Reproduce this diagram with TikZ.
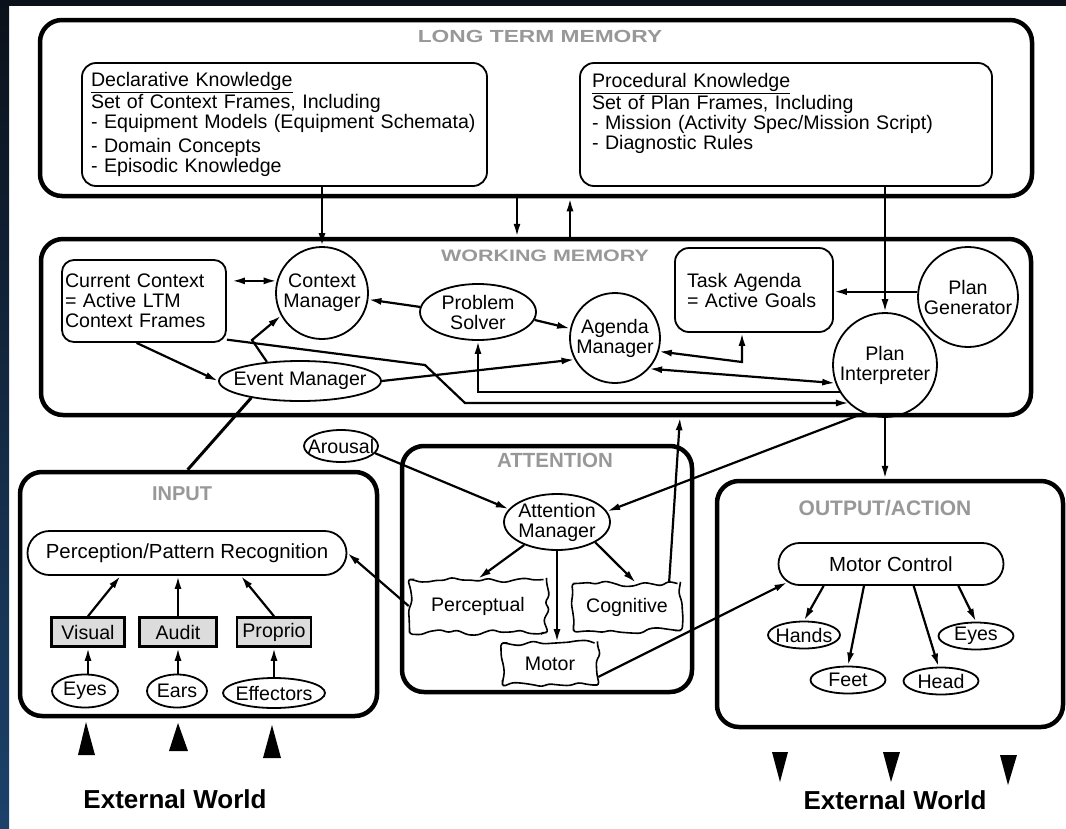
\documentclass[tikz,border=0pt]{standalone}
\usepackage{fontspec}
\setmainfont{Liberation Sans}
\newfontfamily\widesans{Liberation Sans}[FakeStretch=1.3]
\usetikzlibrary{arrows.meta, shapes.geometric, shapes.misc, decorations.pathmorphing}

\definecolor{bgtop}{HTML}{0B111A}
\definecolor{bgbot}{HTML}{1C426B}
\definecolor{titlegray}{HTML}{989898}
\definecolor{boxgray}{HTML}{DCDCDC}

\begin{document}
\begin{tikzpicture}[x=1pt, y=-1pt,
	txt/.style={font=\fontsize{19.6}{20}\selectfont},
	bigbox/.style={draw, line width=4.5pt, rounded corners=22pt},
	ttl/.style={text=titlegray, inner sep=0pt},
	frame/.style={txt, draw, line width=1.8pt, rounded corners=14pt, align=left},
	mgr/.style={txt, draw, line width=1.8pt, circle, inner sep=0pt, align=center},
	oval/.style={txt, draw, line width=1.8pt, ellipse, inner xsep=-10pt, inner ysep=-2pt, align=center},
	pill/.style={draw, line width=1.8pt, rounded rectangle, inner sep=0pt, font=\fontsize{20.4}{21}\selectfont},
	sense/.style={txt, draw, line width=2.6pt, fill=boxgray, inner sep=0pt},
	blob/.style={txt, draw, line width=1.6pt, inner sep=0pt, rounded corners=3pt, decorate, decoration={random steps, segment length=9pt, amplitude=3pt}},
	arr/.style={line width=2.2pt, -{Latex[length=13pt, width=7pt]}},
	darr/.style={line width=2.2pt, {Latex[length=13pt, width=7pt]}-{Latex[length=13pt, width=7pt]}},
	world/.style={font=\fontsize{26}{26}\selectfont\bfseries}
]
	\pgfmathsetseed{7}
	\useasboundingbox (0,0) rectangle (1066,828);
	\fill[white] (0,0) rectangle (1066,828);
	\shade[top color=bgtop, bottom color=bgbot] (0,0) rectangle (9,828);
	\fill[bgtop] (0,0) rectangle (1066,6);

	% memory and processing blocks
	\node[bigbox, minimum width=992pt, minimum height=176pt] (ltm)    at (536,108)   {};
	\node[bigbox, minimum width=990pt, minimum height=176pt] (wm)     at (536,327)   {};
	\node[bigbox, minimum width=357pt, minimum height=244pt] (input)  at (198.5,594) {};
	\node[bigbox, minimum width=290pt, minimum height=246pt] (attn)   at (547,569)   {};
	\node[bigbox, minimum width=346pt, minimum height=246pt] (output) at (890,604)   {};

	\node[ttl, font=\widesans\bfseries\fontsize{17.5}{18}\selectfont] (ltm_t)    at (540,36)  {LONG TERM MEMORY};
	\node[ttl, font=\widesans\bfseries\fontsize{16.5}{17}\selectfont] (wm_t)     at (545,256) {WORKING MEMORY};
	\node[ttl, font=\bfseries\fontsize{20}{21}\selectfont]            (input_t)  at (182,494) {INPUT};
	\node[ttl, font=\bfseries\fontsize{20.5}{21}\selectfont]          (attn_t)   at (555,460) {ATTENTION};
	\node[ttl, font=\bfseries\fontsize{21}{22}\selectfont]            (output_t) at (885,508) {OUTPUT/ACTION};

	% long term memory
	\node[frame, minimum width=405pt, minimum height=123pt, text width=387pt, inner xsep=9pt] (decl) at (284.5,124.5)
		{\underline{Declarative Knowledge}\\ Set of Context Frames, Including\\ - Equipment Models (Equipment Schemata)\\[4pt] - Domain Concepts\\ - Episodic Knowledge};
	\node[frame, minimum width=412pt, minimum height=123pt, text width=388pt, inner xsep=12pt] (proc) at (786,124.5)
		{\underline{Procedural Knowledge}\\ Set of Plan Frames, Including\\ - Mission (Activity Spec/Mission Script)\\ - Diagnostic Rules\\ \strut};

	% working memory
	\node[frame, rounded corners=12pt, minimum width=164pt, minimum height=82pt, text width=158pt, inner xsep=3pt] (curctx) at (144,301)
		{Current Context\\= Active LTM\\Context Frames};
	\node[mgr, minimum size=92pt]                    (ctxmgr)   at (322,293) {Context\\Manager};
	\node[oval, minimum width=116pt, minimum height=56pt] (probsolv) at (478,312) {Problem\\Solver};
	\node[mgr, minimum size=90pt]                    (agenda)   at (615,338) {Agenda\\Manager};
	\node[frame, minimum width=158pt, minimum height=84pt, text width=134pt, inner xsep=12pt] (taskag) at (754,290)
		{Task Agenda\\= Active Goals};
	\node[mgr, minimum size=100pt]                   (plangen)  at (968,297) {Plan\\Generator};
	\node[mgr, minimum size=104pt]                   (planint)  at (885,365) {Plan\\Interpreter};
	\node[oval, minimum width=162pt, minimum height=40pt] (evtmgr)   at (300,381) {Event Manager};

	% attention
	\node[oval, minimum width=74pt, minimum height=32pt]  (arousal)  at (341,446) {Arousal};
	\node[oval, minimum width=106pt, minimum height=56pt] (attnmgr)  at (557,522) {Attention\\Manager};
	\node[blob, minimum width=137pt, minimum height=53pt] (percept)  at (478,606) {Perceptual};
	\node[blob, minimum width=107pt, minimum height=47pt] (cogn)     at (627,607) {Cognitive};
	\node[blob, minimum width=95pt, minimum height=42pt]  (motor)    at (550,664) {Motor};

	% input
	\node[pill, minimum width=319pt, minimum height=44pt] (ppr)     at (187,553) {Perception/Pattern Recognition};
	\node[sense, minimum width=73pt, minimum height=29pt] (visual)  at (88,632)  {Visual};
	\node[sense, minimum width=77pt, minimum height=29pt] (audit)   at (178,632) {Audit};
	\node[sense, minimum width=74pt, minimum height=29pt] (proprio) at (274,632) {Proprio};
	\node[oval, minimum width=66pt, minimum height=33pt]  (eyesi)   at (85,691)  {Eyes};
	\node[oval, minimum width=60pt, minimum height=33pt]  (ears)    at (177,691) {Ears};
	\node[oval, minimum width=102pt, minimum height=30pt] (effect)  at (274,693) {Effectors};

	% output
	\node[pill, minimum width=225pt, minimum height=42pt] (mctl)  at (891,564) {Motor Control};
	\node[oval, minimum width=72pt, minimum height=27pt]  (hands) at (804,635) {Hands};
	\node[oval, minimum width=75pt, minimum height=27pt]  (eyeso) at (976,636) {Eyes};
	\node[oval, minimum width=75pt, minimum height=27pt]  (feet)  at (848,680) {Feet};
	\node[oval, minimum width=75pt, minimum height=27pt]  (head)  at (941,681) {Head};

	\node[world] (world_in)  at (175,799) {External World};
	\node[world] (world_out) at (895,800) {External World};

	\coordinate (ltm_dn)  at (517,0);
	\coordinate (ltm_up)  at (570,0);
	\coordinate (ev_kink) at (252,340);
	\coordinate (cc_bend) at (425,365);
	\coordinate (cc_low)  at (465,403);
	\coordinate (ta_bend) at (742,362);
	\coordinate (cog_up)  at (680,0);

	% connectors
	\draw[arr] (decl.south -| ctxmgr.north) -- (ctxmgr.north);
	\draw[arr] (ltm.south -| ltm_dn) -- (wm.north -| ltm_dn);
	\draw[arr] (wm.north -| ltm_up) -- (ltm.south -| ltm_up);
	\draw[arr] (planint.north |- proc.south) -- (planint.north);

	\draw[darr, shorten <=5pt] (curctx.east |- ctxmgr.165) -- (ctxmgr.165);
	\draw[arr] (probsolv.175) -- (ctxmgr.-8);
	\draw[arr] (probsolv.-8) -- (agenda.168);
	\draw[arr] (plangen.174) -- (plangen.174 -| taskag.east);
	\draw[darr] (agenda.-17) -- (ta_bend) -- (ta_bend |- taskag.south);
	\draw[darr] (agenda.-42) -- (planint.200);
	\draw[arr] (evtmgr.east) -- (agenda.208);
	\draw[arr] (evtmgr.150) -- (ev_kink) -- (ctxmgr.209);
	\draw[arr] (curctx.-100) -- (evtmgr.west);
	\draw[arr] (curctx.-25) -- (cc_bend) -- (cc_low) -- (cc_low -| planint.227);
	\draw[arr] (planint.211) -- (planint.211 -| probsolv.south) -- (probsolv.south);

	\draw[line width=3pt] (evtmgr.-161) -- (input.95);
	\draw[arr] (planint.246) -- (attnmgr.12);
	\draw[arr] (planint.south) -- (planint.south |- output.north);
	\draw[arr] (cogn.30) -- (wm.south -| cog_up);

	\draw[arr] (arousal.-12) -- (attnmgr.165);
	\draw[arr] (attnmgr.-145) -- (percept.north);
	\draw[arr] (attnmgr.south) -- (attnmgr.south |- motor.north);
	\draw[arr] (attnmgr.-28) -- (cogn.70);
	\draw[arr] (percept.west) -- (ppr.east);
	\draw[arr] (motor.-15) -- (mctl.190);

	\draw[arr] (visual.south |- eyesi.north) -- (visual.south);
	\draw[arr] (audit.south |- ears.north) -- (audit.south);
	\draw[arr] (proprio.south |- effect.north) -- (proprio.south);
	\draw[arr] (visual.north) -- (ppr.199);
	\draw[arr] (audit.north) -- (audit.north |- ppr.south);
	\draw[arr] (proprio.north) -- (ppr.-23);

	\draw[arr] (mctl.198) -- (hands.north);
	\draw[arr] (mctl.219) -- (feet.north);
	\draw[arr] (mctl.-44) -- (head.100);
	\draw[arr] (mctl.-18) -- (eyeso.north);

	% external world markers
	\fill (78,755) -- (86,722) -- (95,755) -- cycle;
	\fill (169,751) -- (178,723) -- (188,751) -- cycle;
	\fill (263,758) -- (272,725) -- (281,758) -- cycle;
	\fill (772,752) -- (780,782) -- (788,752) -- cycle;
	\fill (883,752) -- (891,782) -- (900,752) -- cycle;
	\fill (1000,755) -- (1008,785) -- (1017,755) -- cycle;
\end{tikzpicture}
\end{document}
